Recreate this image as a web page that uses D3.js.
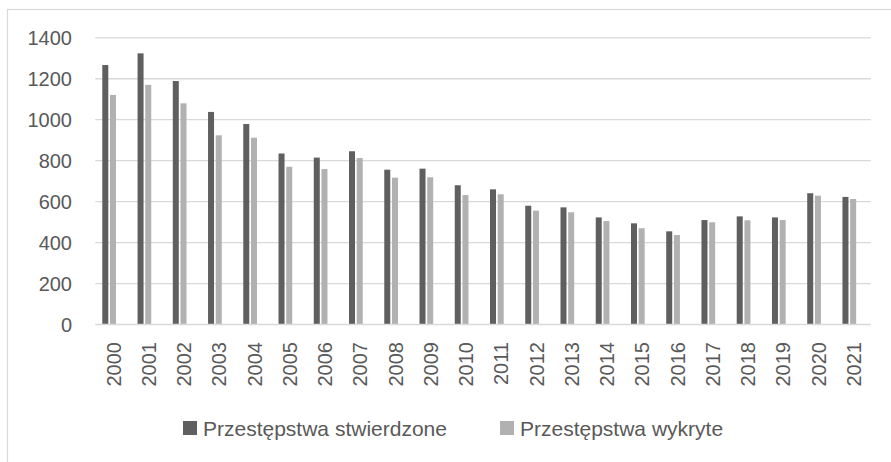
<!DOCTYPE html>
<html><head><meta charset="utf-8">
<script src="https://cdn.jsdelivr.net/npm/d3@7"></script>
<style>
html,body{margin:0;padding:0;background:#fff;}
text{font-family:"Liberation Sans",Arial,sans-serif;fill:#595959;}
</style></head>
<body><svg id="chart" width="891" height="462"></svg>
<script>
const years = ["2000","2001","2002","2003","2004","2005","2006","2007","2008","2009","2010","2011","2012","2013","2014","2015","2016","2017","2018","2019","2020","2021"];
const stwierdzone = [1267,1324,1189,1038,979,835,815,846,756,761,680,660,580,572,523,494,455,510,528,523,641,623];
const wykryte =     [1121,1170,1080,924,912,770,759,813,717,719,632,636,556,548,505,470,437,499,509,510,629,613];
const seriesNames = ["Przestępstwa stwierdzone","Przestępstwa wykryte"];
const seriesColors = ["#5f5f5f","#b1b1b1"];
const yTicks = [0,200,400,600,800,1000,1200,1400];

const svg = d3.select("#chart");
// outer frame
svg.append("rect").attr("x",7.5).attr("y",9.5).attr("width",900).attr("height",470)
  .attr("fill","none").attr("stroke","#d9d9d9").attr("stroke-width",1.2);

const plotL = 95.3, plotR = 870.7, y0 = 324.5, yTop = 37.8;
const x = d3.scaleBand().domain(years).range([plotL, plotR]).padding(0);
const xi = d3.scaleBand().domain(seriesNames).range([7, 20.7]).paddingInner(0.22);
const y = d3.scaleLinear().domain([0,1400]).range([y0, yTop]);

// gridlines
svg.append("g").selectAll("line").data(yTicks.filter(d=>d>0)).join("line")
  .attr("x1",plotL).attr("x2",plotR)
  .attr("y1",d=>y(d)).attr("y2",d=>y(d))
  .attr("stroke","#d9d9d9").attr("stroke-width",1.3);

// y labels
svg.append("g").selectAll("text").data(yTicks).join("text")
  .attr("x",72).attr("y",d=>y(d)).attr("dy","0.35em")
  .attr("text-anchor","end").attr("font-size",20).text(d=>d);

// bars
const data = years.map((yr,i)=>({yr, vals:[stwierdzone[i], wykryte[i]]}));
const groups = svg.append("g").selectAll("g").data(data).join("g")
  .attr("transform",d=>`translate(${x(d.yr)},0)`);
groups.selectAll("rect").data(d=>d.vals.map((v,k)=>({name:seriesNames[k],v,k}))).join("rect")
  .attr("x",d=>xi(d.name)).attr("width",xi.bandwidth())
  .attr("y",d=>y(d.v)).attr("height",d=>y0-y(d.v))
  .attr("fill",d=>seriesColors[d.k]);

// axis baseline
svg.append("line").attr("x1",plotL).attr("x2",plotR).attr("y1",y0).attr("y2",y0)
  .attr("stroke","#d9d9d9").attr("stroke-width",1.5);

// x labels
svg.append("g").selectAll("text").data(years).join("text")
  .attr("transform",d=>`translate(${x(d)+x.bandwidth()/2+0.5},342) rotate(-90)`)
  .attr("text-anchor","end").attr("dy","0.36em").attr("font-size",20).text(d=>d);

// legend
const legendX = [183, 500];
const lg = svg.append("g").selectAll("g").data(seriesNames).join("g")
  .attr("transform",(d,i)=>`translate(${legendX[i]},0)`);
lg.append("rect").attr("x",0).attr("y",421).attr("width",14).attr("height",14)
  .attr("fill",(d,i)=>seriesColors[i]);
lg.append("text").attr("x",20).attr("y",436).attr("font-size",21).text(d=>d);
</script></body></html>
